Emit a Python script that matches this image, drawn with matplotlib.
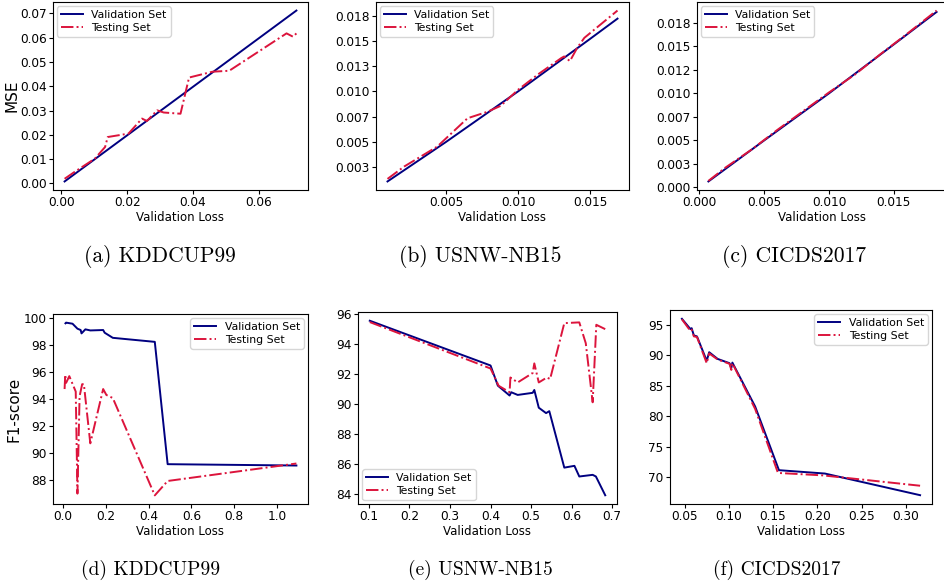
import matplotlib
matplotlib.use("Agg")
import matplotlib.pyplot as plt

# ---- (a) KDDCUP99, MSE ----
a_val_x = [0.001, 0.010, 0.020, 0.030, 0.040, 0.050, 0.060, 0.0714]
a_val_y = [0.0008, 0.0098, 0.0198, 0.0298, 0.0398, 0.0498, 0.0598, 0.0712]
a_test_x = [0.001, 0.004, 0.0102, 0.0133, 0.0141, 0.0204, 0.0245, 0.026, 0.0291,
            0.0311, 0.0362, 0.0388, 0.0459, 0.051, 0.0684, 0.0704, 0.0714]
a_test_y = [0.0019, 0.0047, 0.0102, 0.015, 0.0191, 0.0205, 0.0267, 0.0257, 0.0301,
            0.0292, 0.0287, 0.0436, 0.046, 0.0464, 0.0618, 0.0604, 0.0618]

# ---- (b) USNW-NB15, MSE ----
b_val_x = [0.00095, 0.005, 0.010, 0.015, 0.0169]
b_val_y = [0.0011, 0.0050, 0.0100, 0.0152, 0.0172]
b_test_x = [0.00095, 0.0021, 0.0044, 0.0065, 0.0079, 0.0088, 0.0100, 0.0114, 0.0130,
            0.0132, 0.0136, 0.0141, 0.0146, 0.0169]
b_test_y = [0.00135, 0.00257, 0.00455, 0.00735, 0.0080, 0.00858, 0.01016, 0.0117,
            0.0133, 0.01346, 0.0130, 0.0143, 0.0153, 0.0180]

# ---- (c) CICDS2017, MSE ----
c_val_x = [0.0007, 0.005, 0.010, 0.015, 0.0183]
c_val_y = [0.00064, 0.0050, 0.0100, 0.0152, 0.01865]
c_test_x = [0.0007, 0.002, 0.004, 0.006, 0.008, 0.010, 0.012, 0.014, 0.016, 0.0183]
c_test_y = [0.0007, 0.0021, 0.0040, 0.0061, 0.0081, 0.0101, 0.0120, 0.0142, 0.0163, 0.0188]

# ---- (d) KDDCUP99, F1 ----
d_val_x = [0.012, 0.015, 0.045, 0.068, 0.083, 0.087, 0.105, 0.128, 0.188, 0.195,
           0.233, 0.429, 0.489, 1.09]
d_val_y = [99.63, 99.68, 99.6, 99.23, 99.13, 98.88, 99.18, 99.1, 99.13, 98.93,
           98.55, 98.25, 89.15, 89.05]
d_test_x = [0.008, 0.011, 0.015, 0.03, 0.06, 0.068, 0.078, 0.09, 0.098, 0.128,
            0.188, 0.203, 0.233, 0.429, 0.489, 1.09]
d_test_y = [94.74, 95.8, 95.2, 95.7, 94.55, 86.96, 94.2, 95.1, 95.1, 90.7,
            94.74, 94.3, 94.07, 86.83, 87.9, 89.2]

# ---- (e) USNW-NB15, F1 ----
e_val_x = [0.102, 0.400, 0.418, 0.447, 0.451, 0.467, 0.504, 0.508, 0.519, 0.537,
           0.545, 0.582, 0.607, 0.619, 0.652, 0.660, 0.683]
e_val_y = [95.53, 92.55, 91.21, 90.55, 90.77, 90.59, 90.73, 90.92, 89.74, 89.38,
           89.51, 85.75, 85.87, 85.16, 85.27, 85.16, 83.91]
e_test_x = [0.102, 0.400, 0.420, 0.447, 0.449, 0.467, 0.504, 0.508, 0.519, 0.539,
            0.547, 0.582, 0.619, 0.635, 0.652, 0.661, 0.683]
e_test_y = [95.44, 92.35, 91.2, 90.77, 91.75, 91.42, 92.05, 92.69, 91.42, 91.75,
            91.65, 95.37, 95.42, 94.03, 90.1, 95.26, 94.97]

# ---- (f) CICDS2017, F1 ----
f_val_x = [0.047, 0.0566, 0.058, 0.0605, 0.064, 0.075, 0.0778, 0.0874, 0.1008,
           0.1028, 0.104, 0.1297, 0.1566, 0.2085, 0.316]
f_val_y = [95.98, 94.3, 94.45, 93.25, 93.1, 89.1, 90.5, 89.4, 88.7,
           87.9, 88.8, 81.6, 71.15, 70.6, 67.05]
f_test_x = [0.047, 0.0566, 0.058, 0.0605, 0.064, 0.075, 0.0778, 0.0874, 0.1008,
            0.1028, 0.104, 0.1297, 0.1555, 0.2060, 0.316]
f_test_y = [95.9, 94.0, 94.2, 93.1, 93.0, 88.7, 90.3, 89.3, 88.6,
            87.6, 88.7, 81.2, 70.7, 70.3, 68.6]

captions = ["(a) KDDCUP99", "(b) USNW-NB15", "(c) CICDS2017",
            "(d) KDDCUP99", "(e) USNW-NB15", "(f) CICDS2017"]

W, H = 945, 586
fig = plt.figure(figsize=(W / 100, H / 100), dpi=100)


def box(l, t, r, b):
    return [l / W, 1 - b / H, (r - l) / W, (b - t) / H]


def panel(rect, vx, vy, tx, ty, loc):
    ax = fig.add_axes(box(*rect))
    ax.plot(vx, vy, color='navy', lw=1.4, label='Validation Set')
    ax.plot(tx, ty, color='crimson', lw=1.4, ls='-.', label='Testing Set')
    ax.set_xlabel('Validation Loss', fontsize=8.5, labelpad=1)
    ax.tick_params(labelsize=8.7, length=3, pad=1.5)
    ax.legend(loc=loc, fontsize=7.8, handlelength=2.0, borderpad=0.35,
              labelspacing=0.25, borderaxespad=0.4)
    return ax


ax = panel((53, 2, 308, 190), a_val_x, a_val_y, a_test_x, a_test_y, 'upper left')
ax.set_xticks([0.0, 0.02, 0.04, 0.06])
ax.set_xticklabels(['0.00', '0.02', '0.04', '0.06'])
ax.set_yticks([0.0, 0.01, 0.02, 0.03, 0.04, 0.05, 0.06, 0.07])
ax.set_yticklabels(['0.00', '0.01', '0.02', '0.03', '0.04', '0.05', '0.06', '0.07'])
ax.set_ylabel('MSE', fontsize=11)
ax.yaxis.set_label_coords(-33 / 255, 0.5)

ax = panel((376, 2, 629, 190), b_val_x, b_val_y, b_test_x, b_test_y, 'upper left')
ax.set_xticks([0.005, 0.010, 0.015])
ax.set_xticklabels(['0.005', '0.010', '0.015'])
ax.set_yticks([0.0025, 0.005, 0.0075, 0.01, 0.0125, 0.015, 0.0175])
ax.set_yticklabels(['0.003', '0.005', '0.007', '0.010', '0.013', '0.015', '0.018'])

ax = panel((697, 2, 948, 190), c_val_x, c_val_y, c_test_x, c_test_y, 'upper left')
ax.set_xticks([0.0, 0.005, 0.010, 0.015])
ax.set_xticklabels(['0.000', '0.005', '0.010', '0.015'])
ax.set_yticks([0.0, 0.0025, 0.005, 0.0075, 0.01, 0.0125, 0.015, 0.0175])
ax.set_yticklabels(['0.000', '0.003', '0.005', '0.007', '0.010', '0.012', '0.015', '0.018'])

ax = panel((53, 314, 308, 504), d_val_x, d_val_y, d_test_x, d_test_y, 'upper right')
ax.set_xticks([0.0, 0.2, 0.4, 0.6, 0.8, 1.0])
ax.set_yticks([88, 90, 92, 94, 96, 98, 100])
ax.set_ylabel('F1-score', fontsize=11)
ax.yaxis.set_label_coords(-31 / 255, 0.5)

ax = panel((358, 312, 617, 504), e_val_x, e_val_y, e_test_x, e_test_y, 'lower left')
ax.set_xticks([0.1, 0.2, 0.3, 0.4, 0.5, 0.6, 0.7])
ax.set_yticks([84, 86, 88, 90, 92, 94, 96])

ax = panel((670, 310, 932, 504), f_val_x, f_val_y, f_test_x, f_test_y, 'upper right')
ax.set_xticks([0.05, 0.10, 0.15, 0.20, 0.25, 0.30])
ax.set_xticklabels(['0.05', '0.10', '0.15', '0.20', '0.25', '0.30'])
ax.set_yticks([70, 75, 80, 85, 90, 95])

# captions under each panel
cap_pos = [(160, 256), (480, 256), (794, 256), (151, 570), (480, 570), (777, 570)]
cap_size = [15.5, 15.5, 15.5, 14, 14, 14]
for (cx, cy), txt, fs in zip(cap_pos, captions, cap_size):
    fig.text(cx / W, 1 - cy / H, txt, family='cmr10', fontsize=fs,
             ha='center', va='center')

fig.savefig('out.png', dpi=100)
